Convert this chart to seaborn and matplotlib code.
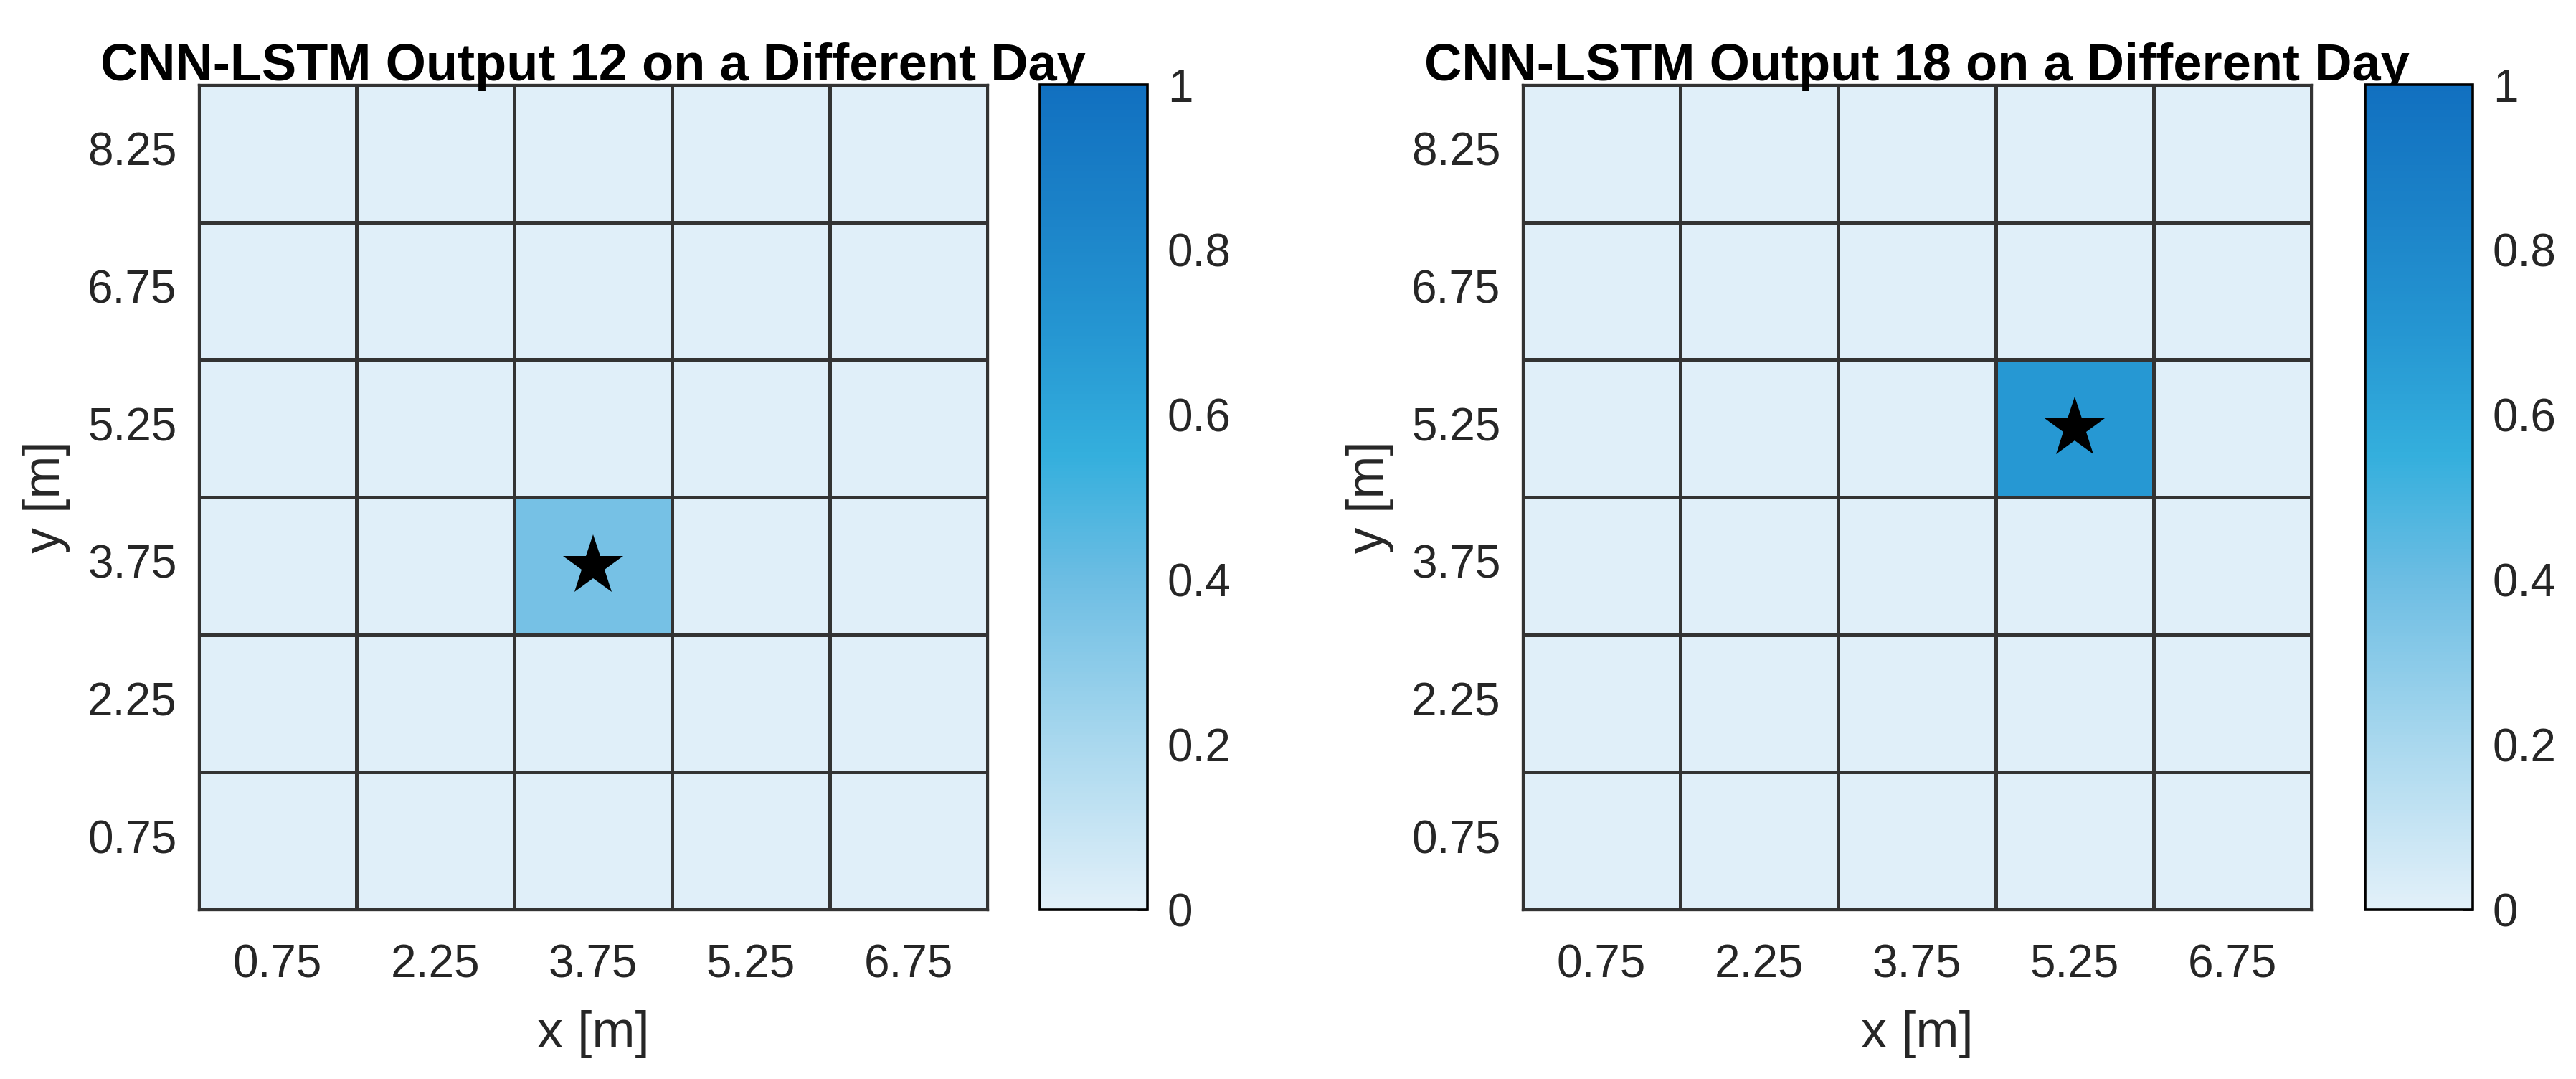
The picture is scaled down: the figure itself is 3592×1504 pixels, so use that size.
import numpy as np
import pandas as pd
import matplotlib
matplotlib.use("Agg")
import matplotlib.pyplot as plt
import seaborn as sns
from matplotlib.colors import LinearSegmentedColormap

# grid centres [m]
x_vals = [0.75, 2.25, 3.75, 5.25, 6.75]
y_vals = [0.75, 2.25, 3.75, 5.25, 6.75, 8.25]

# output maps, rows follow y_vals (bottom to top), columns follow x_vals
out12 = [
    [0.01, 0.01, 0.01, 0.01, 0.01],
    [0.01, 0.01, 0.01, 0.01, 0.01],
    [0.01, 0.01, 0.37, 0.01, 0.01],
    [0.01, 0.01, 0.01, 0.01, 0.01],
    [0.01, 0.01, 0.01, 0.01, 0.01],
    [0.01, 0.01, 0.01, 0.01, 0.01],
]
out18 = [
    [0.01, 0.01, 0.01, 0.01, 0.01],
    [0.01, 0.01, 0.01, 0.01, 0.01],
    [0.01, 0.01, 0.01, 0.01, 0.01],
    [0.01, 0.01, 0.01, 0.69, 0.01],
    [0.01, 0.01, 0.01, 0.01, 0.01],
    [0.01, 0.01, 0.01, 0.01, 0.01],
]
titles = ["CNN-LSTM Output 12 on a Different Day",
          "CNN-LSTM Output 18 on a Different Day"]
cbar_ticks = [0, 0.2, 0.4, 0.6, 0.8, 1]
cbar_labels = ["0", "0.2", "0.4", "0.6", "0.8", "1"]

sns.set_style("white")
plt.rcParams["font.family"] = ["Liberation Sans", "DejaVu Sans"]
txt = "#262626"
grid_col = "#333333"

# blue map like matlab heatmap default
cmap = LinearSegmentedColormap.from_list("sky_like", [
    (0.0, "#e2f0f9"), (0.2, "#a9d8ee"), (0.4, "#6cbde3"), (0.55, "#34afdd"),
    (0.7, "#2596d2"), (0.85, "#1b82c8"), (1.0, "#1170c0")])

fig = plt.figure(figsize=(17.96, 7.52), dpi=200)
W, H = 3592, 1504

def px_axes(x0, y0, x1, y1):
    return fig.add_axes([x0 / W, 1 - y1 / H, (x1 - x0) / W, (y1 - y0) / H])

panels = [(out12, 277, 1450), (out18, 2123, 3298)]
for (vals, ax_left, cb_left), title in zip(panels, titles):
    ax = px_axes(ax_left, 118, ax_left + 1100, 1268)
    cax = px_axes(cb_left, 118, cb_left + 150, 1268)

    df = pd.DataFrame(vals, index=y_vals, columns=x_vals).iloc[::-1]
    sns.heatmap(df, ax=ax, cbar_ax=cax, cmap=cmap, vmin=0, vmax=1,
                linewidths=1.1, linecolor=grid_col, square=False,
                cbar_kws={"ticks": cbar_ticks})

    # star on the cell with max output
    arr = df.to_numpy()
    r, c = np.unravel_index(np.argmax(arr), arr.shape)
    ax.plot(c + 0.5, r + 0.5, marker="*", color="black", markersize=32,
            markeredgewidth=0, linestyle="none")

    for sp in ax.spines.values():
        sp.set_visible(True)
        sp.set_color(grid_col)
        sp.set_linewidth(1.2)

    ax.set_xticklabels([f"{v:.2f}" for v in df.columns], rotation=0)
    ax.set_yticklabels([f"{v:.2f}" for v in df.index], rotation=0)
    ax.tick_params(axis="both", length=0, labelsize=23, colors=txt)
    ax.tick_params(axis="x", pad=17)
    ax.tick_params(axis="y", pad=11)

    ax.set_xlabel("x [m]", fontsize=26, color=txt)
    ax.set_ylabel("y [m]", fontsize=26, color=txt)
    ax.xaxis.set_label_coords(0.5, -0.122)
    ax.yaxis.set_label_coords(-0.163, 0.5)
    ax.set_title(title, fontsize=26, fontweight="bold", color="black", pad=2)

    cb = ax.collections[0].colorbar
    cb.set_ticks(cbar_ticks)
    cb.set_ticklabels(cbar_labels)
    cb.outline.set_edgecolor("black")
    cb.outline.set_linewidth(1.3)
    cax.tick_params(direction="in", length=5, width=1.0, color=txt,
                    labelsize=23, labelcolor=txt, pad=10, right=True)

fig.savefig("out.png", dpi=200, facecolor="white")
